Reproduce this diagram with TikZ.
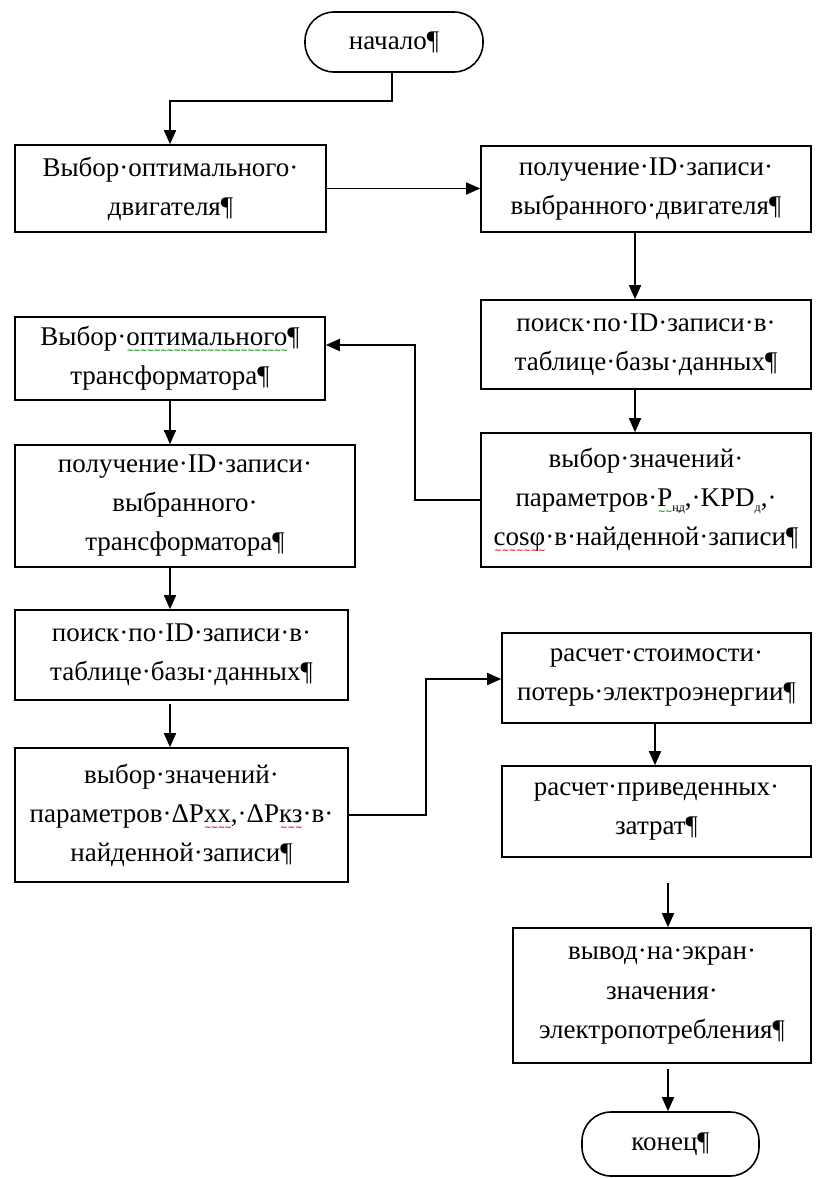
\documentclass[tikz,border=0pt]{standalone}
\usepackage{fontspec}
\setmainfont{Liberation Serif}
\newfontfamily\wavefont{DejaVu Sans}
\usetikzlibrary{arrows.meta}

% small lowered index after a symbol
\newcommand{\lowidx}[1]{\raisebox{-0.35ex}{\fontsize{12}{12}\selectfont #1}}

% spell-check style wavy underline, built from repeated tilde glyphs
\definecolor{spellred}{RGB}{225,30,30}
\definecolor{spellgreen}{RGB}{30,150,30}
\newcommand{\wavy}[2]{\setbox0=\hbox{#2}%
  \rlap{\raisebox{-8pt}[0pt][0pt]{\textcolor{#1}{\wavefont\bfseries\fontsize{9}{9}\selectfont
    \hbox to \wd0{\xleaders\hbox{∼\kern-1pt}\hfil}}}}\box0}

\begin{document}
\begin{tikzpicture}[x=1pt,y=-1pt,
  proc/.style={draw, line width=1.6pt, inner sep=0pt, align=center,
               font=\fontsize{27}{39}\selectfont},
  term/.style={proc, rounded corners=29pt},
  arr/.style={line width=1.6pt, -{Triangle[length=14pt,width=12pt]}}]
\useasboundingbox (0,0) rectangle (819,1178);

% terminals
\node[term, minimum width=178pt, minimum height=60pt] (start) at (394,42) {начало¶};
\node[term, minimum width=177pt, minimum height=64pt] (end) at (670.5,1144) {конец¶};

% left column: motor, then transformer
\node[proc, minimum width=311pt, minimum height=87pt] (b1) at (170.5,188.5)
  {Выбор·оптимального·\\двигателя¶};
\node[proc, minimum width=310pt, minimum height=83pt] (b5) at (170,358.5)
  {Выбор·\wavy{spellgreen}{оптимального}¶\\трансформатора¶};
\node[proc, minimum width=340pt, minimum height=122pt] (b6) at (185,506)
  {получение·ID·записи·\\выбранного·\\трансформатора¶};
\node[proc, minimum width=333pt, minimum height=90pt] (b7) at (181.5,655)
  {поиск·по·ID·записи·в·\\таблице·базы·данных¶};
\node[proc, minimum width=333pt, minimum height=134pt] (b8) at (181.5,815)
  {выбор·значений·\\параметров·ΔP\wavy{spellred}{xx},·ΔP\wavy{spellred}{кз}·в·\\найденной·записи¶};

% right column
\node[proc, minimum width=330pt, minimum height=86pt] (b2) at (646,189)
  {получение·ID·записи·\\выбранного·двигателя¶};
\node[proc, minimum width=330pt, minimum height=89pt] (b3) at (646,344.5)
  {поиск·по·ID·записи·в·\\таблице·базы·данных¶};
\node[proc, minimum width=330pt, minimum height=134pt] (b4) at (646,500)
  {выбор·значений·\\параметров·\wavy{spellgreen}{P}\wavy{spellred}{\lowidx{нд}},·KPD\wavy{spellred}{\lowidx{д}},·\\\wavy{spellred}{cosφ}·в·найденной·записи¶};
\node[proc, minimum width=309pt, minimum height=90pt] (b9) at (656.5,678)
  {расчет·стоимости·\\потерь·электроэнергии¶};
\node[proc, minimum width=309pt, minimum height=91pt] (b10) at (656.5,811.5)
  {расчет·приведенных·\\затрат¶};
\node[proc, minimum width=298pt, minimum height=135pt] (b11) at (662,995.5)
  {вывод·на·экран·\\значения·\\электропотребления¶};

% routing points
\coordinate (xl) at (170,0);
\coordinate (xr) at (635,0);
\coordinate (xm) at (655,0);
\coordinate (xe) at (668,0);
\coordinate (j1) at (170,101);
\coordinate (j2) at (415,345);
\coordinate (j3) at (426,679);
\coordinate (f1) at (668,883);

% connectors
\draw[arr] ([xshift=-2pt]start.south) |- (j1) -- (j1 |- b1.north);
\draw[arr] (b1.east) -- (b1.east -| b2.west);
\draw[arr] (xr |- b2.south) -- (xr |- b3.north);
\draw[arr] (xr |- b3.south) -- (xr |- b4.north);
\draw[arr] (b4.west) -| (j2) -- (j2 -| b5.east);
\draw[arr] (xl |- b5.south) -- (xl |- b6.north);
\draw[arr] (xl |- b6.south) -- (xl |- b7.north);
\draw[arr, shorten <=3pt] (xl |- b7.south) -- (xl |- b8.north);
\draw[arr] (b8.east) -| (j3) -- (j3 -| b9.west);
\draw[arr] (xm |- b9.south) -- (xm |- b10.north);
\draw[arr] (f1) -- (f1 |- b11.north);
\draw[arr, shorten <=5pt] (xe |- b11.south) -- (xe |- end.north);
\end{tikzpicture}
\end{document}
